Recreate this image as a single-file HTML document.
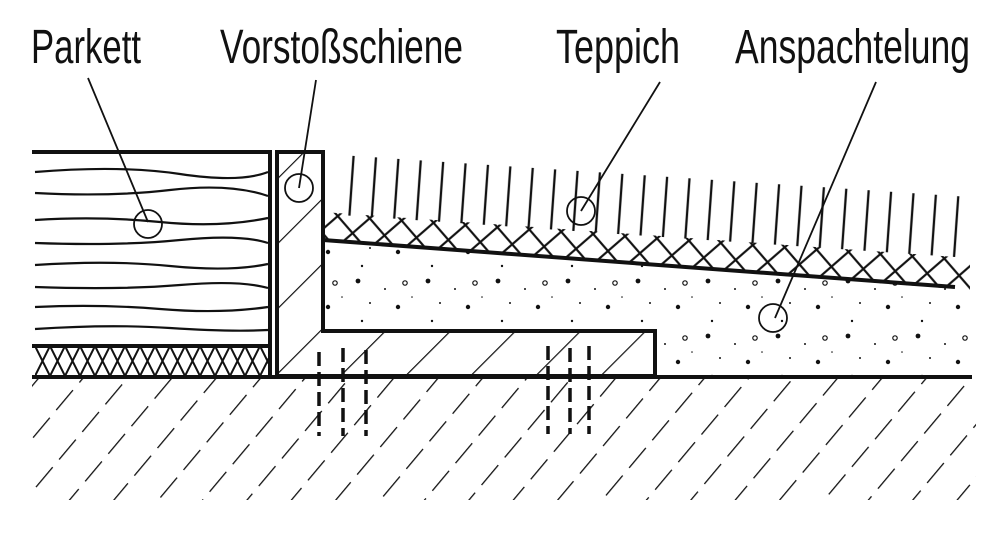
<!DOCTYPE html>
<html><head><meta charset="utf-8"><style>
html,body{margin:0;padding:0;background:#fff;}
svg{display:block;}
text{font-family:"Liberation Sans Narrow","Liberation Sans",sans-serif;font-size:48px;fill:#111;}
</style></head><body>
<svg width="1008" height="541" viewBox="0 0 1008 541" xmlns="http://www.w3.org/2000/svg">
<defs>
  <pattern id="ground" width="34" height="36" patternUnits="userSpaceOnUse" patternTransform="rotate(40)">
    <line x1="0" y1="0" x2="0" y2="36" stroke="#111" stroke-width="2.6" stroke-dasharray="26 10"/>
  </pattern>
  <pattern id="hatch" width="46" height="46" patternUnits="userSpaceOnUse" patternTransform="rotate(45)">
    <line x1="0" y1="0" x2="0" y2="46" stroke="#111" stroke-width="2.4"/>
  </pattern>
  <pattern id="under" width="15" height="30" patternUnits="userSpaceOnUse" x="35" y="346">
    <path d="M0 0 L15 30 M15 0 L0 30" stroke="#111" stroke-width="2"/>
  </pattern>
  <pattern id="cross" width="32" height="32" patternUnits="userSpaceOnUse" patternTransform="rotate(4)">
    <path d="M0 0 L32 32 M32 0 L0 32" stroke="#111" stroke-width="2.2"/>
  </pattern>
  <pattern id="pile" width="22.5" height="200" patternUnits="userSpaceOnUse" patternTransform="skewX(-4)" x="340">
    <line x1="2" y1="0" x2="2" y2="200" stroke="#111" stroke-width="2.3"/>
  </pattern>
  <pattern id="dots" width="70" height="55" patternUnits="userSpaceOnUse">
    <circle cx="8" cy="6" r="2.4" fill="#111"/><circle cx="35" cy="14" r="1" fill="#111"/>
    <circle cx="55" cy="8" r="2.2" fill="none" stroke="#111" stroke-width="1.2"/><circle cx="20" cy="28" r="1" fill="#111"/>
    <circle cx="48" cy="32" r="2.2" fill="#111"/>
    <circle cx="12" cy="46" r="1.2" fill="#111"/>
    <circle cx="62" cy="22" r="0.8" fill="#111"/>
  </pattern>
  <clipPath id="cp-carpet"><polygon points="323,212 970,258 970,290 323,241"/></clipPath>
</defs>

<rect x="32" y="378" width="944" height="122" fill="url(#ground)"/>

<g fill="none" stroke="#111" stroke-width="2.2">
  <path d="M35 172 Q120 165 180 174 T268 172"/>
  <path d="M35 193 Q110 197 170 190 T268 196"/>
  <path d="M35 220 Q100 216 160 222 T268 218"/>
  <path d="M35 243 Q120 246 180 240 T268 243"/>
  <path d="M35 265 Q110 260 170 266 T268 264"/>
  <path d="M35 287 Q120 290 180 285 T268 288"/>
  <path d="M35 307 Q100 304 160 309 T268 307"/>
  <path d="M35 329 Q110 324 170 328 T268 330"/>
</g>
<rect x="35" y="347" width="234" height="28" fill="url(#under)"/>
<g stroke="#111" stroke-width="4" fill="none">
  <line x1="32" y1="152" x2="272" y2="152"/>
  <line x1="270" y1="150" x2="270" y2="378"/>
  <line x1="32" y1="346" x2="270" y2="346"/>
</g>

<polygon points="323,240 955,287 970,287 970,376 655,376 655,331 323,331" fill="url(#dots)"/>
<rect x="323" y="200" width="650" height="100" fill="url(#cross)" clip-path="url(#cp-carpet)"/>
<polygon points="340,155 970,197 970,258 340,215" fill="url(#pile)"/>
<line x1="323" y1="240" x2="955" y2="287" stroke="#111" stroke-width="4"/>

<polygon points="277,152 323,152 323,331 655,331 655,376 277,376" fill="url(#hatch)" stroke="#111" stroke-width="4"/>

<line x1="32" y1="377" x2="972" y2="377" stroke="#111" stroke-width="4"/>

<g stroke="#111" stroke-width="3.5" stroke-dasharray="14 6">
  <line x1="319" y1="352" x2="319" y2="436"/>
  <line x1="343" y1="348" x2="343" y2="436"/>
  <line x1="366" y1="350" x2="366" y2="436"/>
  <line x1="548" y1="346" x2="548" y2="434"/>
  <line x1="570" y1="348" x2="570" y2="434"/>
  <line x1="589" y1="346" x2="589" y2="434"/>
</g>

<g stroke="#111" stroke-width="1.8" fill="none">
  <line x1="88" y1="78" x2="148" y2="222"/><circle cx="148" cy="224" r="14"/>
  <line x1="316" y1="80" x2="299" y2="188"/><circle cx="299" cy="188" r="14"/>
  <line x1="660" y1="82" x2="581" y2="211"/><circle cx="581" cy="211" r="14"/>
  <line x1="876" y1="82" x2="775" y2="318"/><circle cx="773" cy="318" r="14"/>
</g>

<text x="31" y="63" textLength="110" lengthAdjust="spacingAndGlyphs">Parkett</text>
<text x="220" y="63" textLength="243" lengthAdjust="spacingAndGlyphs">Vorstoßschiene</text>
<text x="556" y="63" textLength="124" lengthAdjust="spacingAndGlyphs">Teppich</text>
<text x="735" y="63" textLength="235" lengthAdjust="spacingAndGlyphs">Anspachtelung</text>
</svg>
</body></html>
